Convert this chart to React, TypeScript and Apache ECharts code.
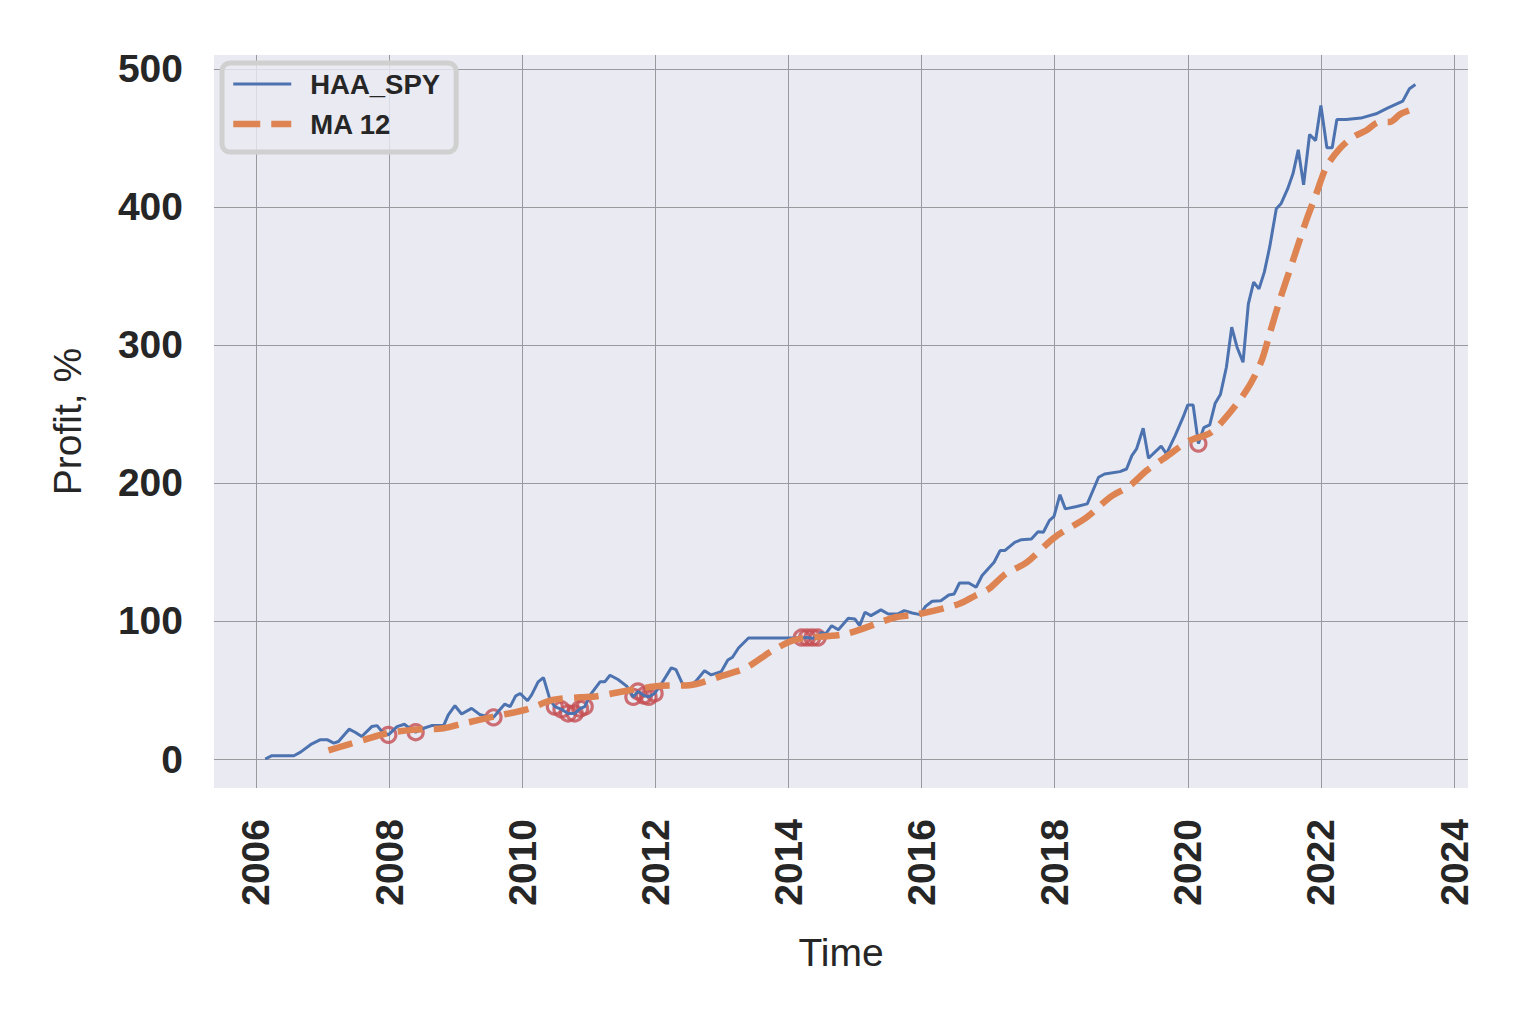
import React, { useEffect, useRef } from "react";
import * as echarts from "echarts";

const haaX = [
  2006.14, 2006.24, 2006.57, 2006.67, 2006.84, 2006.97, 2007.07, 2007.17, 2007.24, 2007.4,
  2007.49, 2007.59, 2007.74, 2007.82, 2007.89, 2007.99, 2008.12, 2008.23, 2008.31, 2008.4,
  2008.52, 2008.64, 2008.82, 2008.89, 2008.99, 2009.09, 2009.24, 2009.37, 2009.49, 2009.57,
  2009.67, 2009.74, 2009.82, 2009.9, 2009.97, 2010.08, 2010.14, 2010.24, 2010.32, 2010.42,
  2010.49, 2010.59, 2010.69, 2010.79, 2010.87, 2010.94, 2011.02, 2011.17, 2011.24, 2011.32,
  2011.44, 2011.57, 2011.67, 2011.74, 2011.83, 2011.9, 2011.99, 2012.09, 2012.24, 2012.31,
  2012.41, 2012.51, 2012.61, 2012.74, 2012.84, 2012.99, 2013.09, 2013.16, 2013.25, 2013.4,
  2014.2, 2014.28, 2014.36, 2014.44, 2014.49, 2014.56, 2014.65, 2014.75, 2014.9, 2015.0,
  2015.07, 2015.15, 2015.24, 2015.39, 2015.5, 2015.64, 2015.74, 2015.86, 2015.98, 2016.06,
  2016.16, 2016.29, 2016.41, 2016.49, 2016.57, 2016.71, 2016.82, 2016.91, 2017.09, 2017.18,
  2017.25, 2017.4, 2017.5, 2017.65, 2017.75, 2017.83, 2017.92, 2017.99, 2018.08, 2018.16,
  2018.33, 2018.49, 2018.66, 2018.75, 2018.98, 2019.08, 2019.16, 2019.23, 2019.33, 2019.41,
  2019.6, 2019.68, 2019.81, 2019.93, 2020.0, 2020.08, 2020.16, 2020.24, 2020.33, 2020.41,
  2020.49, 2020.58, 2020.66, 2020.74, 2020.83, 2020.91, 2020.99, 2021.07, 2021.15, 2021.23,
  2021.33, 2021.4, 2021.5, 2021.58, 2021.66, 2021.74, 2021.83, 2021.92, 2022.0, 2022.09,
  2022.17, 2022.24, 2022.38, 2022.6, 2022.83, 2023.0, 2023.23, 2023.33, 2023.42,
];
const haaY = [
  0, 2.4, 2.4, 5, 11, 14, 14, 11.5, 12.7, 21.6,
  19.4, 16.3, 23.5, 24.2, 20, 17.5, 23.5, 25.2, 22.3, 19.4,
  22.3, 24.2, 24.2, 32, 38.6, 32.6, 36.7, 32, 30.7, 30.2,
  36, 39.8, 37.9, 45.6, 47.5, 42.2, 46.3, 55.9, 59, 42.7,
  38, 36, 33, 33, 36.5, 38, 46.3, 55.9, 55.9, 60.7,
  57.6, 52.8, 45, 49, 46, 45, 47.5, 54.3, 66, 64.7,
  54.3, 53, 56.3, 64, 60.9, 63.3, 71.7, 73.7, 80.4, 87.7,
  87.7, 88, 87.5, 88, 91.8, 90.6, 96.6, 93.7, 101.9, 101.4,
  96.6, 106.3, 103.9, 108, 105, 105, 107.5, 105.8, 104.6, 110.6,
  114.3, 114.7, 118.8, 119.6, 127.5, 127.5, 124.4, 132.9, 142.5, 151,
  151, 157, 158.9, 159.4, 164.7, 164.3, 172.7, 175.8, 191.5, 181.2,
  182.9, 184.8, 204.1, 206.5, 208.2, 210.1, 219.8, 224.6, 239.6, 217.9,
  226.6, 221, 234.3, 247.6, 256.5, 256.5, 228.5, 240, 242, 257.5,
  264, 283.8, 312.8, 298.3, 287.4, 329.7, 345.4, 340.6, 352.7, 370.8,
  398.6, 402.2, 413, 423.9, 441.3, 415.9, 452.4, 448, 473.4, 442.8,
  442.8, 463.3, 463.3, 464.3, 467.4, 471.5, 476.6, 485.5, 488.6,
];

const maX = [
  2007.09, 2007.37, 2007.62, 2007.97, 2008.37, 2008.82, 2009.07, 2009.57, 2010.07, 2010.46,
  2010.87, 2011.12, 2011.57, 2012.1, 2012.51, 2013.01, 2013.36, 2013.76, 2014.11, 2014.86,
  2015.61, 2015.96, 2016.56, 2016.81, 2017.01, 2017.26, 2017.58, 2018.0, 2018.48, 2018.83,
  2019.13, 2019.38, 2019.63, 2020.03, 2020.33, 2020.53, 2020.88, 2021.1, 2021.23, 2021.38,
  2021.58, 2021.78, 2021.93, 2022.08, 2022.28, 2022.48, 2022.68, 2022.88, 2023.03, 2023.2,
  2023.4,
];
const maY = [
  6.2, 10.3, 13.9, 18.7, 21.1, 22.3, 25.2, 30.7, 36, 42.8,
  44.7, 45.5, 49.5, 53, 53.5, 60.4, 66, 78.5, 86.5, 90.6,
  102.7, 105, 112.3, 118.4, 123.2, 134, 142.5, 160.6, 175.1, 189.6,
  198, 208.9, 217.4, 230.7, 236, 245.2, 266.9, 287.4, 308, 332.1,
  361.1, 390.1, 409.4, 428.7, 442, 450.5, 455.3, 461.4, 461.4, 467.4,
  471,
];

const sellX = [
  2007.99, 2008.4, 2009.57, 2010.49, 2010.59, 2010.69, 2010.79, 2010.87, 2010.94,
  2011.67, 2011.74, 2011.83, 2011.9, 2011.99, 2014.2, 2014.28, 2014.36, 2014.44, 2020.16,
];
const sellY = [
  17.5, 19.4, 30.2, 38, 36, 33, 33, 36.5, 38,
  45, 49, 46, 45, 47.5, 88, 88, 88, 88, 228.5,
];

const seriesNames = ["HAA_SPY", "MA 12"];

const zip = (xs: number[], ys: number[]) => xs.map((x, i) => [x, ys[i]]);

export default function App() {
  const ref = useRef<HTMLDivElement>(null);
  useEffect(() => {
    if (!ref.current) return;
    const chart = echarts.init(ref.current, undefined, { renderer: "svg" });
    const font = "'Liberation Sans', Arial, sans-serif";
    const noSym = { color: "rgba(0,0,0,0)", borderWidth: 0, opacity: 0 };
    chart.setOption({
      animation: false,
      backgroundColor: "#ffffff",
      grid: {
        left: 214,
        right: 55,
        top: 55,
        bottom: 237,
        show: true,
        backgroundColor: "#EAEAF2",
        borderWidth: 0,
      },
      legend: {
        data: [
          {
            name: seriesNames[0],
            itemStyle: noSym,
            lineStyle: { width: 3, color: "#4C72B0", type: "solid" },
          },
          {
            name: seriesNames[1],
            itemStyle: noSym,
            lineStyle: { width: 6.5, color: "#DD8452", type: [27, 11], cap: "butt" },
          },
        ],
        orient: "vertical",
        left: 222,
        top: 63,
        padding: [7, 16, 14, 8],
        itemWidth: 58,
        itemHeight: 14,
        itemGap: 12,
        backgroundColor: "rgba(234,234,242,0.8)",
        borderColor: "#d0d0d0",
        borderWidth: 5,
        borderRadius: 8,
        textStyle: {
          fontFamily: font,
          fontSize: 27.5,
          fontWeight: "bold",
          color: "#262626",
          padding: [0, 0, 0, 14],
        },
      },
      xAxis: {
        type: "value",
        min: 2005.37,
        max: 2024.21,
        splitNumber: 10,
        name: "Time",
        nameLocation: "middle",
        nameGap: 145,
        nameTextStyle: { fontFamily: font, fontSize: 39, color: "#262626" },
        axisLine: { show: false },
        axisTick: { show: false },
        axisLabel: {
          rotate: 90,
          margin: 31,
          fontFamily: font,
          fontSize: 39,
          fontWeight: "bold",
          color: "#262626",
          showMinLabel: false,
          showMaxLabel: false,
          formatter: (v: number) => String(Math.round(v)),
        },
        splitLine: {
          show: true,
          showMinLine: false,
          showMaxLine: false,
          lineStyle: { color: "#9a9a9e", width: 1 },
        },
      },
      yAxis: {
        type: "value",
        min: -21,
        max: 510,
        splitNumber: 5,
        name: "Profit, %",
        nameLocation: "middle",
        nameGap: 127,
        nameTextStyle: { fontFamily: font, fontSize: 39, color: "#262626" },
        axisLine: { show: false },
        axisTick: { show: false },
        axisLabel: {
          margin: 31,
          fontFamily: font,
          fontSize: 39,
          fontWeight: "bold",
          color: "#262626",
          showMinLabel: false,
          showMaxLabel: false,
        },
        splitLine: {
          show: true,
          showMinLine: false,
          showMaxLine: false,
          lineStyle: { color: "#9a9a9e", width: 1 },
        },
      },
      series: [
        {
          name: "sell",
          type: "scatter",
          data: zip(sellX, sellY),
          symbol: "circle",
          symbolSize: 15,
          z: 1,
          itemStyle: { color: "rgba(0,0,0,0)", borderColor: "#C44E52", borderWidth: 3.2 },
        },
        {
          name: seriesNames[0],
          type: "line",
          data: zip(haaX, haaY),
          showSymbol: false,
          symbol: "none",
          z: 2,
          itemStyle: { color: "#4C72B0" },
          lineStyle: { color: "#4C72B0", width: 3 },
        },
        {
          name: seriesNames[1],
          type: "line",
          data: zip(maX, maY),
          showSymbol: false,
          symbol: "none",
          smooth: 0.3,
          z: 3,
          itemStyle: { color: "#DD8452" },
          lineStyle: { color: "#DD8452", width: 6.5, type: [25, 11], cap: "butt" },
        },
      ],
    });
    return () => chart.dispose();
  }, []);
  return (
    <div
      ref={ref}
      style={{ position: "fixed", left: 0, top: 0, width: 1523, height: 1025 }}
    />
  );
}
